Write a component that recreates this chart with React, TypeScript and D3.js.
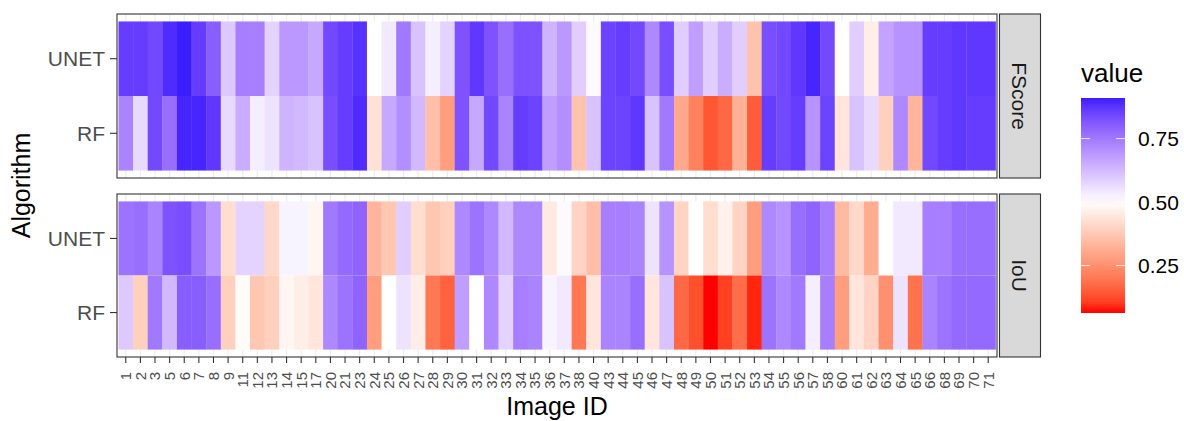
import React from 'react';
import * as d3 from 'd3';

// x axis categories (image ids that appear in the data)
const imageIds = [
  '1', '2', '3', '5', '6', '7', '8', '9', '11', '12', '13', '14', '15', '17', '20',
  '21', '23', '24', '25', '26', '27', '28', '29', '30', '31', '32', '33', '34', '35', '36',
  '37', '38', '40', '43', '44', '45', '46', '47', '48', '49', '50', '51', '52', '53', '54',
  '55', '56', '57', '58', '60', '61', '62', '63', '64', '65', '66', '68', '69', '70', '71',
];

const algorithms = ['UNET', 'RF'];
const metrics = ['FScore', 'IoU'];

// values, one per image id
const fscoreUnet = [
  0.86, 0.86, 0.84, 0.89, 0.91, 0.86, 0.80, 0.60, 0.74, 0.74, 0.58, 0.69, 0.69, 0.66, 0.84,
  0.86, 0.88, 0.50, 0.54, 0.75, 0.61, 0.53, 0.58, 0.82, 0.87, 0.82, 0.77, 0.82, 0.82, 0.64,
  0.69, 0.59, 0.51, 0.85, 0.86, 0.84, 0.72, 0.83, 0.59, 0.68, 0.59, 0.65, 0.59, 0.36, 0.83,
  0.84, 0.87, 0.90, 0.84, 0.50, 0.59, 0.46, 0.67, 0.70, 0.70, 0.86, 0.86, 0.87, 0.87, 0.87,
];
const fscoreRf = [
  0.73, 0.57, 0.84, 0.77, 0.90, 0.90, 0.87, 0.57, 0.65, 0.53, 0.55, 0.64, 0.63, 0.61, 0.83,
  0.86, 0.89, 0.43, 0.66, 0.71, 0.63, 0.35, 0.28, 0.82, 0.66, 0.84, 0.73, 0.86, 0.85, 0.68,
  0.71, 0.36, 0.61, 0.85, 0.85, 0.87, 0.61, 0.75, 0.30, 0.22, 0.14, 0.17, 0.32, 0.15, 0.86,
  0.84, 0.86, 0.70, 0.85, 0.44, 0.61, 0.57, 0.39, 0.72, 0.33, 0.84, 0.86, 0.87, 0.86, 0.86,
];
const iouUnet = [
  0.76, 0.77, 0.73, 0.82, 0.83, 0.76, 0.69, 0.42, 0.58, 0.58, 0.41, 0.52, 0.52, 0.48, 0.75,
  0.78, 0.79, 0.33, 0.37, 0.59, 0.42, 0.37, 0.39, 0.72, 0.76, 0.72, 0.63, 0.72, 0.72, 0.45,
  0.51, 0.40, 0.35, 0.74, 0.74, 0.73, 0.55, 0.70, 0.40, 0.50, 0.42, 0.47, 0.40, 0.28, 0.72,
  0.70, 0.77, 0.79, 0.74, 0.34, 0.41, 0.31, 0.50, 0.54, 0.54, 0.74, 0.74, 0.77, 0.77, 0.77,
];
const iouRf = [
  0.60, 0.39, 0.75, 0.63, 0.80, 0.80, 0.77, 0.39, 0.49, 0.37, 0.39, 0.48, 0.46, 0.44, 0.72,
  0.76, 0.79, 0.28, 0.50, 0.55, 0.46, 0.20, 0.16, 0.68, 0.50, 0.72, 0.58, 0.74, 0.73, 0.52,
  0.54, 0.20, 0.44, 0.73, 0.73, 0.77, 0.44, 0.61, 0.17, 0.13, 0.063, 0.11, 0.18, 0.08, 0.76,
  0.72, 0.75, 0.53, 0.74, 0.28, 0.44, 0.40, 0.25, 0.55, 0.19, 0.73, 0.76, 0.78, 0.78, 0.78,
];

const legendTicks = [0.25, 0.5, 0.75];

const seriesByMetric: Record<string, Record<string, number[]>> = {
  FScore: { UNET: fscoreUnet, RF: fscoreRf },
  IoU: { UNET: iouUnet, RF: iouRf },
};

const FONT = '"Liberation Sans", Arial, Helvetica, sans-serif';
const WIDTH = 1184;
const HEIGHT = 421;
const panelLeft = 117;
const panelRight = 997;
const panels = [
  { metric: metrics[0], top: 14, bottom: 178 },
  { metric: metrics[1], top: 194, bottom: 357 },
];

const allValues = [...fscoreUnet, ...fscoreRf, ...iouUnet, ...iouRf];
const vMin = d3.min(allValues) as number;
const vMax = d3.max(allValues) as number;
// same rescaling as a diverging gradient around 0.5
const maxDev = d3.max(allValues, (v) => Math.abs(v - 0.5)) as number;
const color = d3.scaleLinear<string>()
  .domain([0.5 - maxDev, 0.5, 0.5 + maxDev])
  .range(['red', 'white', 'blue'])
  .interpolate(d3.interpolateLab);

const x = d3.scaleBand<string>()
  .domain(imageIds)
  .range([panelLeft, panelRight])
  .paddingInner(0)
  .paddingOuter(0.1);

const Panel = ({ metric, top, bottom }: { metric: string; top: number; bottom: number }) => {
  const y = d3.scaleBand<string>()
    .domain(algorithms)
    .range([top, bottom])
    .paddingInner(0)
    .paddingOuter(0.1);
  const series = seriesByMetric[metric];

  return (
    <g>
      <rect x={panelLeft} y={top} width={panelRight - panelLeft} height={bottom - top} fill="white" />
      {/* grid lines, only visible in the expanded margins */}
      {imageIds.map((id) => (
        <line key={`gx-${id}`} x1={x(id)! + x.bandwidth() / 2} x2={x(id)! + x.bandwidth() / 2}
          y1={top} y2={bottom} stroke="#EBEBEB" strokeWidth={1.1} />
      ))}
      {algorithms.map((alg) =>
        imageIds.map((id, i) => (
          <rect
            key={`${alg}-${id}`}
            x={x(id)}
            y={y(alg)}
            width={x.bandwidth() + 0.3}
            height={y.bandwidth()}
            fill={color(series[alg][i])}
          />
        ))
      )}
      <rect x={panelLeft} y={top} width={panelRight - panelLeft} height={bottom - top}
        fill="none" stroke="#333333" strokeWidth={1.1} />
      {/* y axis */}
      {algorithms.map((alg) => {
        const cy = y(alg)! + y.bandwidth() / 2;
        return (
          <g key={`ya-${alg}`}>
            <line x1={panelLeft - 7} x2={panelLeft} y1={cy} y2={cy} stroke="#333333" strokeWidth={1.1} />
            <text x={panelLeft - 12} y={cy} dy="0.36em" textAnchor="end" fontSize={21}
              fill="#4D4D4D" fontFamily={FONT}>{alg}</text>
          </g>
        );
      })}
      {/* facet strip */}
      <rect x={999.5} y={top} width={41} height={bottom - top} fill="#D9D9D9" stroke="#333333" strokeWidth={1.1} />
      <text transform={`translate(1020,${(top + bottom) / 2}) rotate(90)`} textAnchor="middle"
        dy="0.36em" fontSize={21} fill="#1A1A1A" fontFamily={FONT}>{metric}</text>
    </g>
  );
};

const Legend = () => {
  const barTop = 98;
  const barBottom = 313;
  const barX = 1081;
  const barW = 44;
  const ly = d3.scaleLinear().domain([vMin, vMax]).range([barBottom, barTop]);
  const stops = d3.range(0, 1.0001, 0.05);

  return (
    <g>
      <defs>
        <linearGradient id="legend-grad" x1="0" y1="1" x2="0" y2="0">
          {stops.map((s) => (
            <stop key={s} offset={s} stopColor={color(vMin + s * (vMax - vMin))} />
          ))}
        </linearGradient>
      </defs>
      <text x={barX} y={82} fontSize={26} fill="black" fontFamily={FONT}>value</text>
      <rect x={barX} y={barTop} width={barW} height={barBottom - barTop} fill="url(#legend-grad)" />
      {legendTicks.map((t) => (
        <g key={t}>
          <line x1={barX} x2={barX + 9} y1={ly(t)} y2={ly(t)} stroke="white" strokeOpacity={0.8} />
          <line x1={barX + barW - 9} x2={barX + barW} y1={ly(t)} y2={ly(t)} stroke="white" strokeOpacity={0.8} />
          <text x={1138} y={ly(t)} dy="0.36em" fontSize={21} fill="black" fontFamily={FONT}>
            {t.toFixed(2)}
          </text>
        </g>
      ))}
    </g>
  );
};

export default function App() {
  const bottomPanel = panels[panels.length - 1].bottom;

  return (
    <svg width={WIDTH} height={HEIGHT} style={{ position: 'absolute', left: 0, top: 0, background: 'white' }}>
      <rect width={WIDTH} height={HEIGHT} fill="white" />
      {panels.map((p) => (
        <Panel key={p.metric} metric={p.metric} top={p.top} bottom={p.bottom} />
      ))}
      {/* x axis */}
      {imageIds.map((id) => {
        const cx = x(id)! + x.bandwidth() / 2;
        return (
          <g key={`xa-${id}`}>
            <line x1={cx} x2={cx} y1={bottomPanel} y2={bottomPanel + 6} stroke="#333333" strokeWidth={1.1} />
            <text transform={`translate(${cx},${bottomPanel + 15}) rotate(-90)`} textAnchor="end"
              dy="0.36em" fontSize={15} fill="#4D4D4D" fontFamily={FONT}>{id}</text>
          </g>
        );
      })}
      <text x={(panelLeft + panelRight) / 2} y={415} textAnchor="middle" fontSize={25}
        fill="black" fontFamily={FONT}>Image ID</text>
      <text transform={`translate(30,${(panels[0].top + bottomPanel) / 2}) rotate(-90)`}
        textAnchor="middle" fontSize={25} fill="black" fontFamily={FONT}>Algorithm</text>
      <Legend />
    </svg>
  );
}
